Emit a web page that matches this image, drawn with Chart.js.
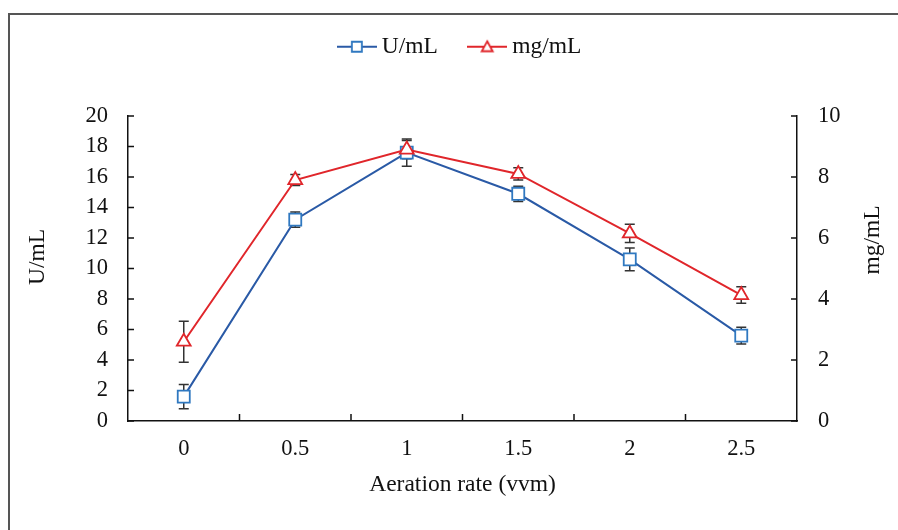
<!DOCTYPE html>
<html><head><meta charset="utf-8">
<script src="https://cdn.jsdelivr.net/npm/chart.js@4/dist/chart.umd.min.js"></script>
<style>
html,body{margin:0;padding:0;background:#fff;}
#wrap{position:relative;width:898px;height:530px;overflow:hidden;}
#frame{position:absolute;left:8px;top:13px;width:1000px;height:1000px;border-left:2px solid #555;border-top:2px solid #555;}
#c{position:absolute;left:0;top:0;}
</style></head><body>
<div id="wrap"><div id="frame"></div><canvas id="c" width="898" height="530"></canvas></div>
<script>
// aeration rate (vvm) categories
const rates=['0','0.5','1','1.5','2','2.5'];
// U/mL, left axis
const uPerMl=[1.6,13.2,17.6,14.9,10.6,5.6];
const uPerMlErr=[0.8,0.5,0.9,0.5,0.75,0.55];
// mg/mL, right axis
const mgPerMl=[2.6,7.9,8.9,8.1,6.15,4.13];
const mgPerMlErr=[0.67,0.18,0.3,0.2,0.3,0.27];
const leftTicks={min:0,max:20,step:2};
const rightTicks={min:0,max:10,step:2};

const BLUE_LINE='#2a5aa6', BLUE_PT='#2f78c0', RED='#e0262b';
const serif="'Liberation Serif','Times New Roman',serif";
const tickFont={size:22.5,family:serif};
Chart.defaults.font.family=serif;
Chart.defaults.font.size=22.5;
Chart.defaults.color='#111';

function legendIcon(line,pt,shape){
  const c=document.createElement('canvas');c.width=40;c.height=16;
  const g=c.getContext('2d');
  g.strokeStyle=line;g.lineWidth=2;g.beginPath();g.moveTo(0,8);g.lineTo(40,8);g.stroke();
  g.fillStyle='#fff';g.strokeStyle=pt;g.lineWidth=1.8;g.beginPath();
  if(shape==='rect'){g.rect(15,3,10,10);}
  else{g.moveTo(20,2.5);g.lineTo(25.5,12.5);g.lineTo(14.5,12.5);g.closePath();}
  g.fill();g.stroke();
  return c;
}
const icons=[legendIcon(BLUE_LINE,BLUE_PT,'rect'),legendIcon(RED,RED,'triangle')];

const extras={
  id:'extras',
  beforeLayout(chart){
    // leave room between legend and plot like the original
    const lg=chart.legend;
    if(lg&&!lg._tall){const f=lg.fit.bind(lg);lg.fit=function(){f();this.height=117;};lg._tall=true;}
  },
  afterLayout(chart){
    // centre legend over the plot area, not the canvas
    const lg=chart.legend,a=chart.chartArea;
    const d=(a.left+a.right)/2-(lg.left+lg.right)/2;
    lg.left+=d;lg.right+=d;
  },
  beforeDatasetsDraw(chart){
    const ctx=chart.ctx,x=chart.scales.x;
    ctx.save();ctx.strokeStyle='#333';ctx.lineWidth=1.5;
    chart.data.datasets.forEach(ds=>{
      const s=chart.scales[ds.yAxisID];
      ds.data.forEach((v,i)=>{
        const px=x.getPixelForValue(i),e=ds.err[i];
        const t=s.getPixelForValue(v+e),b=s.getPixelForValue(v-e);
        ctx.beginPath();
        ctx.moveTo(px,t);ctx.lineTo(px,b);
        ctx.moveTo(px-5,t);ctx.lineTo(px+5,t);
        ctx.moveTo(px-5,b);ctx.lineTo(px+5,b);
        ctx.stroke();
      });
    });
    ctx.restore();
  },
  afterDraw(chart){
    const ctx=chart.ctx,a=chart.chartArea,{x,y,y2}=chart.scales;
    ctx.save();ctx.strokeStyle='#111';ctx.lineWidth=1.5;ctx.beginPath();
    y.ticks.forEach((t,i)=>{const p=y.getPixelForTick(i);ctx.moveTo(a.left,p);ctx.lineTo(a.left+6,p);});
    y2.ticks.forEach((t,i)=>{const p=y2.getPixelForTick(i);ctx.moveTo(a.right,p);ctx.lineTo(a.right-6,p);});
    for(let i=1;i<rates.length;i++){
      const p=(x.getPixelForTick(i-1)+x.getPixelForTick(i))/2;
      ctx.moveTo(p,a.bottom);ctx.lineTo(p,a.bottom-7);
    }
    ctx.stroke();
    ctx.fillStyle='#111';ctx.font='23.5px '+serif;ctx.textAlign='center';ctx.textBaseline='middle';
    ctx.fillText('Aeration rate (vvm)',(a.left+a.right)/2,485);
    ctx.translate(38,257);ctx.rotate(-Math.PI/2);ctx.fillText('U/mL',0,0);
    ctx.setTransform(1,0,0,1,0,0);
    ctx.translate(873,240);ctx.rotate(-Math.PI/2);ctx.fillText('mg/mL',0,0);
    ctx.restore();
  }
};

new Chart(document.getElementById('c'),{
  type:'line',
  data:{labels:rates,datasets:[
    {label:'U/mL',data:uPerMl,err:uPerMlErr,yAxisID:'y',order:2,borderColor:BLUE_LINE,borderWidth:2,
     pointStyle:'rect',pointRadius:8.5,pointBorderColor:BLUE_PT,pointBackgroundColor:'#fff',pointBorderWidth:1.8},
    {label:'mg/mL',data:mgPerMl,err:mgPerMlErr,yAxisID:'y2',order:1,borderColor:RED,borderWidth:2,
     pointStyle:'triangle',pointRadius:8,pointBorderColor:RED,pointBackgroundColor:'#fff',pointBorderWidth:1.8}
  ]},
  options:{
    responsive:false,animation:false,devicePixelRatio:1,
    layout:{padding:{top:-1,left:0,right:0,bottom:0}},
    plugins:{
      tooltip:{enabled:false},
      legend:{position:'top',align:'center',
        labels:{usePointStyle:true,pointStyleWidth:26.5,padding:36,color:'#111',font:{size:23.5,family:serif,lineHeight:1},
          generateLabels(chart){
            return Chart.defaults.plugins.legend.labels.generateLabels(chart)
              .sort((p,q)=>p.datasetIndex-q.datasetIndex)
              .map(l=>Object.assign(l,{pointStyle:icons[l.datasetIndex]}));
          }}}
    },
    scales:{
      x:{type:'category',offset:true,grid:{display:false,drawTicks:false},
         border:{display:true,color:'#111',width:1.5},
         ticks:{padding:15,color:'#111',font:tickFont},
         afterFit(s){s.height=109;}},
      y:{position:'left',min:leftTicks.min,max:leftTicks.max,grid:{display:false,drawTicks:false},
         border:{display:true,color:'#111',width:1.5},
         ticks:{stepSize:leftTicks.step,padding:20,color:'#111',font:tickFont},
         afterFit(s){s.width=128;}},
      y2:{position:'right',min:rightTicks.min,max:rightTicks.max,grid:{display:false,drawTicks:false},
         border:{display:true,color:'#111',width:1.5},
         ticks:{stepSize:rightTicks.step,padding:21,color:'#111',font:tickFont},
         afterFit(s){s.width=101;}}
    }
  },
  plugins:[extras]
});
</script>
</body></html>
